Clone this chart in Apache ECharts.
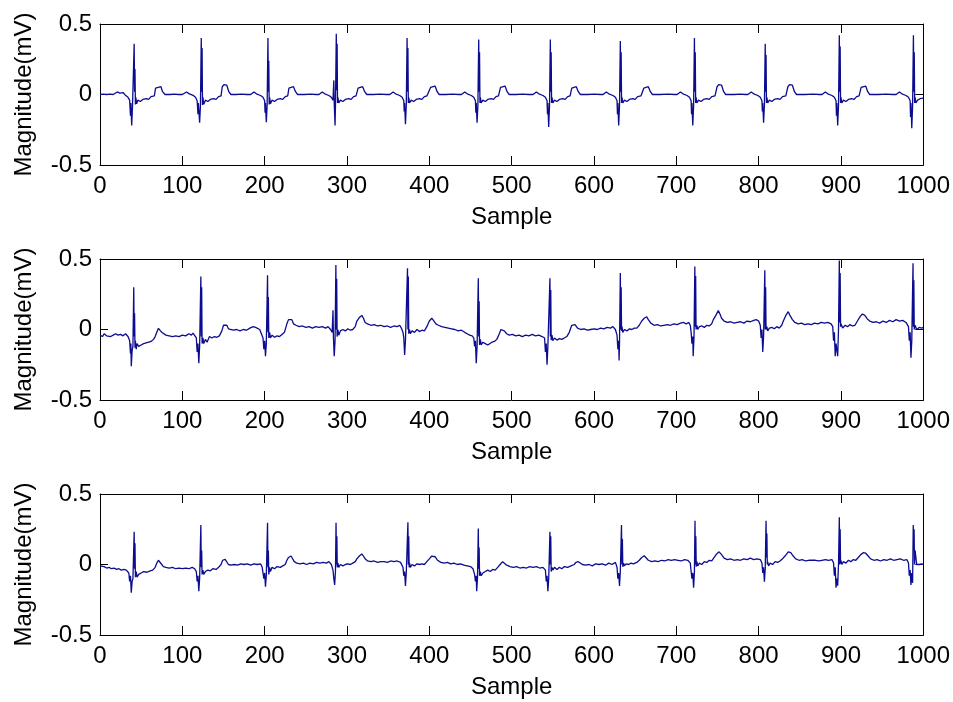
<!DOCTYPE html>
<html>
<head>
<meta charset="utf-8">
<script src="https://cdn.jsdelivr.net/npm/echarts@6/dist/echarts.min.js"></script>
<style>html,body{margin:0;padding:0;background:#fff}#c{width:953px;height:702px}</style>
</head>
<body>
<div id="c"></div>
<script>
// ---- data (x = sample index, y = magnitude in mV) ----
const xAxisName = 'Sample';
const yAxisName = 'Magnitude(mV)';
const xRange = [0, 1000];
const yRange = [-0.5, 0.5];

const ecgTop = [
[0,0],[4,0.002],[8,0],[12,0.003],[16,0],[18,0.01],[21,0.018],[24,0.01],[26,0.004],[28,0.014],[31,-0.006],[34,-0.02],[36,-0.04],[37,-0.15],[37.5,-0.06],[38.5,-0.22],[39.5,-0.08],[41.5,0.36],[42,0.02],[42.5,0.18],[43,-0.07],[43.5,-0.02],[44.5,-0.065],[46,-0.04],[49,-0.05],[52,-0.035],[56,-0.03],[59,-0.035],[62,-0.015],[66,-0.01],[67.5,0.045],[69.5,0.057],[74,0.055],[76,0.02],[79,0],[85,0],[90,0.002],[95,0],[100,0],
[102,0.012],[105,0.018],[108,0.006],[110,0.014],[113,-0.006],[116,-0.02],[118,-0.045],[119,-0.14],[119.5,-0.06],[121,-0.20],[122,-0.08],[123,0.40],[123.5,0.02],[124,0.33],[124.5,-0.075],[125,-0.02],[126,-0.07],[128,-0.04],[131,-0.05],[134,-0.035],[138,-0.03],[141,-0.035],[144,-0.015],[147,-0.01],[148.5,0.055],[150.5,0.07],[154,0.066],[156.5,0.02],[159,0],[165,0],[172,0.002],[178,0],[183,0],
[184,0.012],[187,0.018],[190,0.005],[192,0.013],[195,-0.007],[198,-0.02],[200,-0.045],[200.5,-0.13],[201,-0.06],[202,-0.196],[203,-0.08],[204,0.40],[204.5,0.02],[205,0.24],[205.5,-0.07],[206,-0.02],[207,-0.065],[209,-0.04],[212,-0.05],[215,-0.035],[219,-0.03],[222,-0.035],[225,-0.015],[228,-0.01],[229.5,0.045],[231.5,0.057],[235,0.055],[237.5,0.02],[240,0],[248,0],[256,0.002],[262,0],[266,0],
[267,0.012],[270,0.018],[273,0.005],[275,0.013],[278,-0.007],[281,-0.02],[283,-0.04],[284,0.1],[284.5,-0.06],[285.5,-0.22],[286,-0.08],[287,0.43],[287.5,0.03],[288,0.36],[288.5,-0.06],[289,-0.02],[290,-0.06],[292,-0.04],[295,-0.05],[298,-0.035],[302,-0.03],[305,-0.035],[308,-0.015],[311,-0.01],[313.5,0.045],[315.5,0.057],[319,0.055],[321.5,0.02],[324,0],[332,0],[340,0.002],[348,0],[352,0],
[353,0.012],[356,0.018],[359,0.005],[361,0.013],[364,-0.007],[367,-0.02],[369,-0.045],[369.5,-0.12],[370,-0.06],[371,-0.21],[372,-0.08],[373,0.40],[373.5,0.02],[374,0.33],[374.5,-0.06],[375,-0.02],[376,-0.06],[378,-0.04],[381,-0.05],[384,-0.035],[388,-0.03],[391,-0.035],[394,-0.015],[397,-0.01],[401.5,0.05],[403.5,0.064],[407,0.06],[409.5,0.02],[412,0],[420,0],[428,0.002],[436,0],[439,0],
[440,0.012],[443,0.018],[446,0.005],[448,0.013],[451,-0.007],[454,-0.02],[456,-0.045],[456.5,-0.13],[457,-0.06],[458,-0.20],[459,-0.08],[460,0.39],[460.5,0.02],[461,0.30],[461.5,-0.06],[462,-0.02],[463,-0.06],[465,-0.04],[468,-0.05],[471,-0.035],[475,-0.03],[478,-0.035],[481,-0.015],[484,-0.01],[486.5,0.05],[488.5,0.064],[492,0.06],[494.5,0.02],[497,0],[505,0],[513,0.002],[521,0],[526,0],
[527,0.012],[530,0.018],[533,0.005],[535,0.013],[538,-0.007],[541,-0.02],[543,-0.045],[543.5,-0.14],[544,-0.06],[545,-0.23],[546,-0.08],[547,0.39],[547.5,0.02],[548,0.30],[548.5,-0.06],[549,-0.02],[550,-0.06],[552,-0.04],[555,-0.05],[558,-0.035],[562,-0.03],[565,-0.035],[568,-0.015],[571,-0.01],[573,0.045],[575,0.057],[578.5,0.055],[581,0.02],[583.5,0],[592,0],[600,0.002],[608,0],[611,0],
[612,0.012],[615,0.018],[618,0.005],[620,0.013],[623,-0.007],[626,-0.02],[628,-0.045],[628.5,-0.14],[629,-0.06],[630,-0.22],[631,-0.08],[632,0.38],[632.5,0.02],[633,0.30],[633.5,-0.06],[634,-0.02],[635,-0.06],[637,-0.04],[640,-0.05],[643,-0.035],[647,-0.03],[650,-0.035],[653,-0.015],[657,-0.01],[660.5,0.045],[662.5,0.057],[666,0.055],[668.5,0.02],[671,0],[680,0],[690,0.002],[698,0],[701,0],
[702,0.012],[705,0.018],[708,0.005],[710,0.013],[713,-0.007],[716,-0.02],[718,-0.045],[718.5,-0.14],[719,-0.06],[720,-0.22],[721,-0.08],[722,0.40],[722.5,0.02],[723,0.30],[723.5,-0.06],[724,-0.02],[725,-0.06],[727,-0.04],[730,-0.05],[733,-0.035],[737,-0.03],[740,-0.035],[743,-0.015],[747,-0.01],[749.5,0.055],[751.5,0.07],[755,0.066],[757.5,0.02],[760,0],[770,0],[778,0.002],[784,0],[787,0],
[788,0.012],[791,0.018],[794,0.005],[796,0.013],[799,-0.007],[802,-0.02],[804,-0.045],[804.5,-0.12],[805,-0.06],[806,-0.20],[807,-0.08],[808,0.36],[808.5,0.02],[809,0.28],[809.5,-0.06],[810,-0.02],[811,-0.06],[813,-0.04],[816,-0.05],[819,-0.035],[823,-0.03],[826,-0.035],[829,-0.015],[833,-0.01],[835.5,0.055],[837.5,0.07],[841,0.066],[843.5,0.02],[846,0],[856,0],[866,0.002],[874,0],[877,0],
[878,0.012],[881,0.018],[884,0.005],[886,0.013],[889,-0.007],[892,-0.02],[894,-0.045],[894.5,-0.15],[895,-0.06],[896,-0.22],[897,-0.08],[898,0.42],[898.5,0.02],[899,0.34],[899.5,-0.06],[900,-0.02],[901,-0.06],[903,-0.04],[906,-0.05],[909,-0.035],[913,-0.03],[916,-0.035],[919,-0.015],[922,-0.01],[924.5,0.05],[926.5,0.064],[930,0.06],[932.5,0.02],[935,0],[945,0],[955,0.002],[963,0],[967,0],
[968,0.012],[971,0.018],[974,0.005],[976,0.013],[979,-0.007],[982,-0.02],[984,-0.045],[984.5,-0.16],[985,-0.06],[986,-0.24],[987,-0.08],[988,0.42],[988.5,0.02],[989,0.30],[989.5,-0.06],[990,-0.02],[991,-0.06],[993,-0.04],[996,-0.03],[998,-0.02],[1000,-0.025]
];

const ecgMid = [
[0,-0.04],[3,-0.05],[5,-0.03],[8,-0.045],[10,-0.035],[13,-0.05],[16,-0.04],[19,-0.03],[22,-0.04],[25,-0.035],[28,-0.045],[31,-0.03],[34,-0.05],[36,-0.08],[37,-0.17],[37.5,-0.1],[38,-0.26],[39,-0.15],[40,-0.12],[41,0.30],[41.5,-0.05],[42,0.115],[42.5,-0.13],[43,-0.08],[44,-0.14],[45,-0.1],[47,-0.12],[50,-0.11],[53,-0.1],[56,-0.095],[59,-0.09],[62,-0.085],[65,-0.07],[67,-0.05],[69,-0.02],[71,0.008],[73,0.0],[75,-0.02],[77,-0.03],[80,-0.04],[84,-0.045],[88,-0.05],[92,-0.045],[96,-0.05],[100,-0.04],[104,-0.045],[108,-0.03],[111,-0.04],[113,-0.025],[115,-0.03],[117,-0.06],[118,-0.16],[119,-0.1],[120,-0.24],[121,-0.12],[122.5,0.375],[123,-0.05],[123.5,0.3],[124,-0.1],[125,-0.06],[126,-0.1],[128,-0.07],[130,-0.09],[133,-0.05],[136,-0.06],[139,-0.05],[142,-0.055],[145,-0.045],[148,-0.01],[150,0.03],[152,0.044],[154,0.03],[156,0.005],[158,0.0],[162,-0.005],[166,0.0],[170,-0.01],[174,0.0],[178,-0.005],[182,0.01],[186,0.02],[189,0.015],[191,0.025],[194,0.0],[196,-0.03],[198,-0.06],[199,-0.14],[200,-0.08],[201,-0.19],[202,-0.1],[203.5,0.385],[204,-0.02],[204.5,0.23],[205,-0.06],[206,-0.02],[207,-0.06],[209,-0.04],[212,-0.055],[215,-0.045],[218,-0.05],[221,-0.035],[224,-0.02],[227,0.04],[229,0.07],[231,0.08],[233,0.07],[235,0.04],[238,0.03],[242,0.02],[246,0.025],[250,0.015],[254,0.02],[258,0.01],[262,0.02],[266,0.015],[270,0.02],[274,0.01],[277,0.02],[280,0.0],[282,-0.02],[283,0.137],[283.5,-0.05],[284.5,-0.19],[285.5,-0.08],[286.5,0.457],[287,0.0],[287.5,0.36],[288,-0.05],[289,0.0],[290,-0.04],[292,-0.01],[295,0.0],[298,-0.01],[301,0.005],[304,-0.005],[307,0.0],[310,0.02],[312,0.06],[315,0.085],[318,0.1],[320,0.08],[322,0.05],[325,0.04],[329,0.03],[333,0.035],[337,0.025],[341,0.03],[345,0.02],[349,0.025],[353,0.015],[357,0.025],[361,0.02],[364,0.03],[366,0.01],[368,-0.02],[369,-0.06],[370,-0.18],[371,-0.08],[373.5,0.434],[374,0.0],[374.5,0.375],[375,-0.03],[376,0.0],[377,-0.03],[379,-0.01],[382,-0.02],[385,0.0],[388,-0.015],[391,-0.005],[394,-0.01],[397,0.02],[400,0.06],[403,0.08],[405,0.065],[408,0.04],[411,0.03],[415,0.02],[419,0.015],[423,0.01],[427,0.005],[431,0.0],[435,-0.01],[439,-0.005],[443,-0.02],[446,-0.03],[449,-0.04],[452,-0.045],[454,-0.06],[455,-0.12],[456,-0.08],[457,-0.24],[458,-0.12],[459.5,0.363],[460,-0.05],[460.5,0.2],[461,-0.11],[462,-0.07],[463,-0.11],[465,-0.09],[468,-0.1],[471,-0.11],[473,-0.1],[476,-0.09],[479,-0.085],[482,-0.07],[485,-0.03],[487,0.0],[489,0.008],[491,-0.01],[494,-0.03],[497,-0.04],[501,-0.035],[505,-0.045],[509,-0.04],[513,-0.05],[517,-0.04],[521,-0.045],[525,-0.035],[529,-0.045],[533,-0.04],[537,-0.05],[540,-0.06],[541,-0.16],[542,-0.1],[543,-0.25],[544,-0.12],[546.5,0.363],[547,-0.05],[547.5,0.28],[548,-0.075],[549,-0.04],[550,-0.08],[552,-0.06],[555,-0.075],[558,-0.065],[561,-0.07],[564,-0.06],[567,-0.05],[570,-0.02],[573,0.03],[575,0.044],[577,0.035],[580,0.01],[584,0.0],[588,0.005],[592,-0.005],[596,0.0],[600,0.005],[604,0.0],[608,0.01],[612,0.005],[616,0.015],[620,0.01],[623,0.02],[626,0.0],[628,-0.04],[629,-0.14],[630,-0.08],[630.5,-0.22],[631,-0.1],[632,0.4],[632.5,0.0],[633,0.3],[633.5,-0.01],[634,0.02],[635,-0.02],[637,0.0],[640,-0.01],[643,0.005],[646,0.0],[649,0.01],[652,0.01],[655,0.03],[658,0.06],[661,0.08],[664,0.09],[666,0.07],[669,0.045],[673,0.03],[677,0.035],[681,0.025],[685,0.03],[689,0.035],[693,0.03],[697,0.04],[701,0.035],[705,0.045],[709,0.05],[712,0.04],[715,0.05],[717,0.03],[718,-0.02],[719,-0.1],[720,-0.05],[720.5,-0.19],[721.5,-0.05],[722.5,0.446],[723,0.02],[723.5,0.38],[724,0.0],[725,0.03],[726,0.0],[728,0.02],[731,0.025],[734,0.015],[737,0.03],[740,0.025],[743,0.04],[745,0.07],[748,0.1],[751,0.134],[753,0.11],[755,0.08],[758,0.06],[762,0.05],[766,0.055],[770,0.045],[774,0.05],[778,0.055],[782,0.045],[786,0.06],[790,0.055],[794,0.065],[797,0.07],[800,0.06],[802,0.03],[803,-0.06],[804,0.0],[805,-0.16],[806,-0.05],[807.5,0.42],[808,0.0],[808.5,0.3],[809,0.0],[810,0.02],[811,-0.01],[813,0.01],[816,0.015],[819,0.005],[822,0.02],[825,0.01],[828,0.03],[830,0.06],[833,0.1],[836,0.126],[838,0.1],[841,0.07],[844,0.05],[848,0.04],[852,0.045],[856,0.035],[860,0.04],[864,0.035],[868,0.045],[872,0.04],[876,0.05],[880,0.045],[884,0.05],[888,0.04],[890,0.02],[891,-0.08],[892,-0.02],[893,-0.19],[894,-0.1],[896,-0.19],[897,0.0],[898,0.49],[898.5,0.05],[899,0.4],[899.5,0.02],[900,0.04],[902,0.01],[905,0.03],[908,0.02],[911,0.035],[914,0.025],[917,0.03],[920,0.06],[923,0.09],[926,0.11],[929,0.1],[932,0.075],[935,0.06],[939,0.05],[943,0.055],[947,0.045],[951,0.06],[955,0.05],[959,0.065],[963,0.055],[967,0.07],[971,0.06],[975,0.065],[979,0.05],[982,0.02],[983,-0.08],[984,-0.02],[985,-0.2],[986,-0.08],[987.5,0.47],[988,0.02],[988.5,0.35],[989,0.0],[990,0.03],[992,0.0],[995,0.015],[998,0.01],[1000,0.015]
];

const ecgBot = [
[0,-0.01],[2,-0.02],[5,-0.015],[8,-0.025],[11,-0.02],[14,-0.03],[17,-0.025],[20,-0.035],[23,-0.03],[26,-0.04],[29,-0.035],[32,-0.04],[35,-0.06],[36,-0.12],[37,-0.08],[38,-0.2],[39,-0.12],[40,-0.1],[41.5,0.233],[42,-0.03],[42.5,0.15],[43,-0.09],[44,-0.05],[45,-0.09],[47,-0.07],[50,-0.06],[53,-0.05],[57,-0.055],[61,-0.045],[64,-0.04],[67,-0.02],[69,0.01],[71,0.03],[73,0.025],[75,0.0],[77,-0.015],[80,-0.02],[84,-0.025],[88,-0.02],[92,-0.03],[96,-0.025],[100,-0.03],[104,-0.025],[108,-0.03],[112,-0.02],[115,-0.03],[117,-0.05],[118,-0.12],[119,-0.08],[120,-0.19],[121,-0.1],[122.5,0.28],[123,-0.02],[123.5,0.1],[124,-0.07],[125,-0.04],[126,-0.07],[128,-0.05],[131,-0.04],[134,-0.045],[137,-0.03],[141,-0.035],[144,-0.02],[147,0.0],[149,0.03],[152,0.037],[154,0.025],[156,0.0],[159,-0.005],[163,0.0],[167,-0.005],[171,0.005],[175,0.0],[179,0.005],[183,-0.005],[187,0.005],[191,0.0],[195,0.005],[197,-0.02],[198,-0.06],[199,-0.1],[200,-0.06],[201,-0.157],[202,-0.08],[203.5,0.296],[204,-0.02],[204.5,0.1],[205,-0.07],[206,-0.02],[207,-0.05],[209,-0.02],[212,-0.03],[215,-0.015],[219,-0.02],[222,-0.01],[225,0.0],[227,0.03],[229,0.05],[232,0.06],[234,0.05],[236,0.02],[239,0.01],[243,0.005],[247,0.01],[251,0.0],[255,0.01],[259,0.005],[263,0.015],[267,0.01],[271,0.015],[275,0.01],[278,0.02],[281,0.0],[283,-0.04],[284,-0.1],[285,-0.145],[286,-0.05],[286.7,0.296],[287.2,0.0],[287.7,0.2],[288.2,-0.02],[289,0.01],[290,-0.02],[292,0.0],[295,-0.01],[298,0.0],[301,0.005],[304,0.0],[307,0.01],[310,0.02],[312,0.04],[315,0.06],[318,0.075],[320,0.06],[322,0.04],[325,0.025],[329,0.02],[333,0.025],[337,0.015],[341,0.02],[345,0.02],[349,0.015],[353,0.025],[357,0.02],[361,0.025],[365,0.015],[368,-0.02],[369,-0.08],[370,-0.05],[371,-0.152],[372,-0.06],[374,0.3],[374.5,0.0],[375,0.2],[375.5,-0.02],[376,0.01],[377,-0.02],[379,0.0],[382,-0.01],[385,0.005],[388,0.0],[391,0.005],[394,0.0],[397,0.02],[400,0.04],[403,0.06],[405,0.07],[407,0.055],[410,0.03],[414,0.015],[418,0.01],[422,0.015],[426,0.005],[430,0.01],[434,0.0],[438,0.005],[442,-0.005],[446,-0.01],[450,-0.015],[453,-0.03],[455,-0.07],[456,-0.12],[457,-0.08],[457.5,-0.19],[458.5,-0.1],[459.5,0.256],[460,-0.03],[460.5,0.12],[461,-0.08],[462,-0.05],[463,-0.08],[465,-0.06],[468,-0.05],[471,-0.04],[474,-0.05],[477,-0.035],[480,-0.04],[483,-0.02],[486,0.0],[489,0.02],[491,0.015],[494,-0.005],[498,-0.015],[502,-0.02],[506,-0.015],[510,-0.025],[514,-0.02],[518,-0.025],[522,-0.015],[526,-0.02],[530,-0.015],[534,-0.025],[538,-0.02],[541,-0.04],[542,-0.12],[543,-0.08],[544,-0.19],[545,-0.1],[546.5,0.233],[547,0.0],[547.5,0.2],[548,-0.05],[549,-0.02],[550,-0.04],[552,-0.02],[555,-0.035],[558,-0.02],[561,-0.03],[564,-0.015],[568,-0.02],[572,-0.01],[576,0.0],[578,0.015],[581,0.02],[583,0.01],[586,0.0],[590,-0.005],[594,0.0],[598,-0.01],[602,0.005],[606,0.0],[610,0.005],[614,-0.005],[618,0.01],[622,0.0],[626,0.015],[628,-0.02],[629,-0.1],[630,-0.06],[631,-0.152],[632,-0.05],[633.4,0.28],[634,0.0],[634.5,0.18],[635,-0.016],[636,0.01],[637,-0.01],[639,0.005],[642,0.0],[645,0.01],[648,0.005],[652,0.015],[655,0.03],[658,0.05],[661,0.062],[663,0.05],[666,0.03],[670,0.02],[674,0.025],[678,0.02],[682,0.03],[686,0.025],[690,0.035],[694,0.03],[698,0.035],[702,0.03],[706,0.025],[710,0.035],[714,0.03],[717,0.01],[718,-0.05],[719,-0.1],[720,-0.06],[721,-0.164],[722,-0.05],[722.7,0.31],[723.2,0.0],[723.7,0.2],[724.2,-0.016],[725,0.02],[726,-0.01],[728,0.01],[731,0.0],[734,0.02],[737,0.015],[740,0.03],[743,0.025],[746,0.05],[749,0.075],[752,0.09],[755,0.07],[758,0.045],[762,0.035],[766,0.04],[770,0.03],[774,0.035],[778,0.03],[782,0.04],[786,0.035],[790,0.045],[794,0.035],[798,0.04],[802,0.035],[804,0.01],[805,-0.06],[806,-0.02],[807,-0.122],[808,-0.03],[809,0.31],[809.5,0.05],[810,0.22],[810.5,0.0],[811,0.02],[812,-0.01],[814,0.01],[817,0.0],[820,0.02],[823,0.015],[826,0.025],[829,0.04],[832,0.06],[836,0.09],[839,0.085],[842,0.06],[845,0.04],[849,0.03],[853,0.035],[857,0.025],[861,0.03],[865,0.03],[869,0.03],[873,0.025],[877,0.03],[881,0.035],[885,0.03],[889,0.035],[891,0.01],[892,-0.08],[893,-0.02],[894,-0.164],[895,-0.1],[896,-0.15],[897,0.0],[898,0.335],[898.5,0.0],[899,0.25],[899.5,0.006],[900,0.03],[901,0.0],[903,0.02],[906,0.01],[909,0.03],[912,0.02],[915,0.035],[918,0.03],[921,0.05],[924,0.07],[927,0.084],[930,0.08],[933,0.06],[936,0.04],[940,0.03],[944,0.035],[948,0.025],[952,0.035],[956,0.03],[960,0.04],[964,0.03],[968,0.035],[972,0.04],[976,0.03],[980,0.035],[982,0.01],[983,-0.08],[984,-0.04],[985,-0.145],[986,-0.06],[987,-0.13],[987.8,0.28],[988.3,0.1],[988.8,0.25],[989.3,0.0],[990,0.1],[991,0.1],[992,0.0],[995,0.0],[998,0.005],[1000,0.0]
];

const signals = [ecgTop, ecgMid, ecgBot];

// ---- layout / style ----
const FONT = '"Liberation Sans", Arial, Helvetica, sans-serif';
const FS = 24;
const gridTops = [24, 259, 494];
const lineColor = '#0c0c90';

const grids = [], xAxes = [], yAxes = [], series = [];
const tickStyle = (len) => ({ show: true, inside: true, length: len, lineStyle: { color: '#000', width: 1 } });
const axisLineStyle = { show: true, onZero: false, lineStyle: { color: '#000', width: 1 } };
const labelStyle = (m) => ({ fontFamily: FONT, fontSize: FS, color: '#000', margin: m, formatter: (v) => String(v) });

gridTops.forEach((top, i) => {
  grids.push({ left: 100, width: 826, top: top, height: 141, containLabel: false });
  xAxes.push({
    gridIndex: i, type: 'value', position: 'bottom', min: xRange[0], max: xRange[1], interval: 100,
    name: xAxisName, nameLocation: 'middle', nameGap: 40,
    nameTextStyle: { fontFamily: FONT, fontSize: FS, color: '#000' },
    axisLine: axisLineStyle, axisTick: tickStyle(9), splitLine: { show: false },
    axisLabel: labelStyle(9)
  });
  yAxes.push({
    gridIndex: i, type: 'value', position: 'left', min: yRange[0], max: yRange[1], interval: 0.5,
    name: yAxisName, nameLocation: 'middle', nameGap: 64, nameRotate: 90,
    nameTextStyle: { fontFamily: FONT, fontSize: FS, color: '#000' },
    axisLine: axisLineStyle, axisTick: tickStyle(8), splitLine: { show: false },
    axisLabel: labelStyle(8)
  });
});
gridTops.forEach((top, i) => {
  xAxes.push({
    gridIndex: i, type: 'value', position: 'top', min: xRange[0], max: xRange[1], interval: 100,
    axisLine: axisLineStyle, axisTick: tickStyle(9), axisLabel: { show: false }, splitLine: { show: false }
  });
  yAxes.push({
    gridIndex: i, type: 'value', position: 'right', min: yRange[0], max: yRange[1], interval: 0.5,
    axisLine: axisLineStyle, axisTick: tickStyle(8), axisLabel: { show: false }, splitLine: { show: false }
  });
});
signals.forEach((d, i) => {
  series.push({
    type: 'line', xAxisIndex: i, yAxisIndex: i, data: d, symbol: 'none', showSymbol: false,
    lineStyle: { color: lineColor, width: 1.3 }, silent: true, animation: false, clip: true
  });
});

const chart = echarts.init(document.getElementById('c'), null, { renderer: 'canvas' });
chart.setOption({
  backgroundColor: '#fff',
  animation: false,
  grid: grids, xAxis: xAxes, yAxis: yAxes, series: series
});
</script>
</body>
</html>
